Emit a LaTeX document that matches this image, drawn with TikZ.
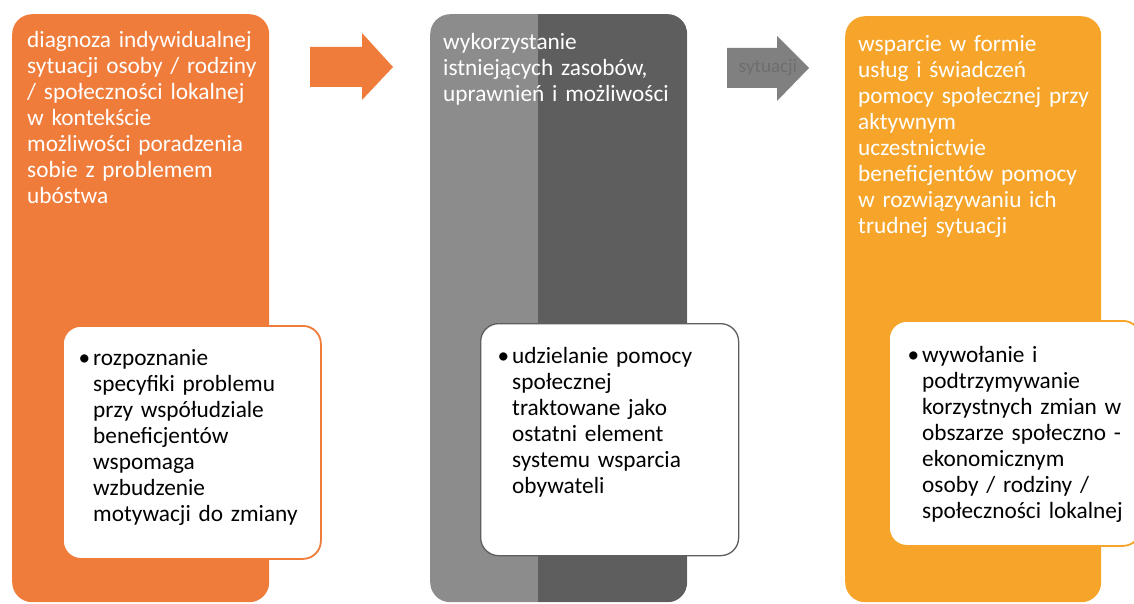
\documentclass[tikz,border=0pt]{standalone}
\usepackage{fontspec}
\setmainfont{Carlito}
\usepackage{xcolor}
\definecolor{pomarancz}{RGB}{239,124,58}
\definecolor{zolty}{RGB}{246,165,42}
\definecolor{szaryjasny}{RGB}{140,140,140}
\definecolor{szaryciemny}{RGB}{94,94,94}
\definecolor{szarystrzalka}{RGB}{128,128,128}
\tikzset{
  panel/.style={rectangle,rounded corners=20pt,anchor=north west,inner sep=0pt},
  ramka/.style={rectangle,rounded corners=18pt,anchor=north west,inner sep=0pt,fill=white,line width=1.8pt},
  tekst/.style={anchor=north west,inner sep=0pt,align=left,text width=260pt,font=\fontsize{23.3}{26}\selectfont}
}

\begin{document}
\begin{tikzpicture}[x=1pt,y=-1pt]
  \useasboundingbox (0,0) rectangle (1134,604);
  \node (p1) at (12,14) [panel,fill=pomarancz,minimum width=257pt,minimum height=588pt] {};
  \node (p2) at (430,14) [panel,fill=szaryjasny,minimum width=257pt,minimum height=588pt,
    path picture={\fill[szaryciemny,sharp corners] ([xshift=108pt]path picture bounding box.north west) rectangle (path picture bounding box.south east);}] {};
  \node (p3) at (845,16) [panel,fill=zolty,minimum width=256pt,minimum height=586pt] {};
  \fill[pomarancz] (310,47) -- (362,47) -- (362,33) -- (393,67) -- (362,100) -- (362,87) -- (310,87) -- cycle;
  \fill[szarystrzalka] (727,48) -- (777,48) -- (777,36) -- (809,68) -- (777,101) -- (777,88) -- (727,88) -- cycle;
  \node (s2) at (768,68) [text=szaryciemny!90,font=\fontsize{19}{22}\selectfont] {sytuacji};
  \node (t1) at (27,28.8) [tekst,text=white] {\strut diagnoza indywidualnej\\sytuacji osoby / rodziny\\/ społeczności lokalnej\\w kontekście\\możliwości poradzenia\\sobie z problemem\\ubóstwa};
  \node (t2) at (443,30.8) [tekst,text=white] {\strut wykorzystanie\\istniejących zasobów,\\uprawnień i możliwości};
  \node (t3) at (858,32.8) [tekst,text=white] {\strut wsparcie w formie\\usług i świadczeń\\pomocy społecznej przy\\aktywnym\\uczestnictwie\\beneficjentów pomocy\\w rozwiązywaniu ich\\trudnej sytuacji};
  \node (r1) at (62,325) [ramka,draw=pomarancz,minimum width=258pt,minimum height=233pt] {};
  \node (r2) at (480,323) [ramka,draw=szaryciemny,line width=1.3pt,minimum width=258pt,minimum height=232pt] {};
  \node (r3) at (888,320) [ramka,draw=zolty,minimum width=252pt,minimum height=225pt] {};
  \node (b1) at (93,346.8) [tekst] {\strut\llap{\textbullet\hspace{3pt}}rozpoznanie\\specyfiki problemu\\przy współudziale\\beneficjentów\\wspomaga\\wzbudzenie\\motywacji do zmiany};
  \node (b2) at (512,344.8) [tekst] {\strut\llap{\textbullet\hspace{3pt}}udzielanie pomocy\\społecznej\\traktowane jako\\ostatni element\\systemu wsparcia\\obywateli};
  \node (b3) at (922,343.8) [tekst] {\strut\llap{\textbullet\hspace{3pt}}wywołanie i\\podtrzymywanie\\korzystnych zmian w\\obszarze społeczno -\\ekonomicznym\\osoby / rodziny /\\społeczności lokalnej};
\end{tikzpicture}
\end{document}
